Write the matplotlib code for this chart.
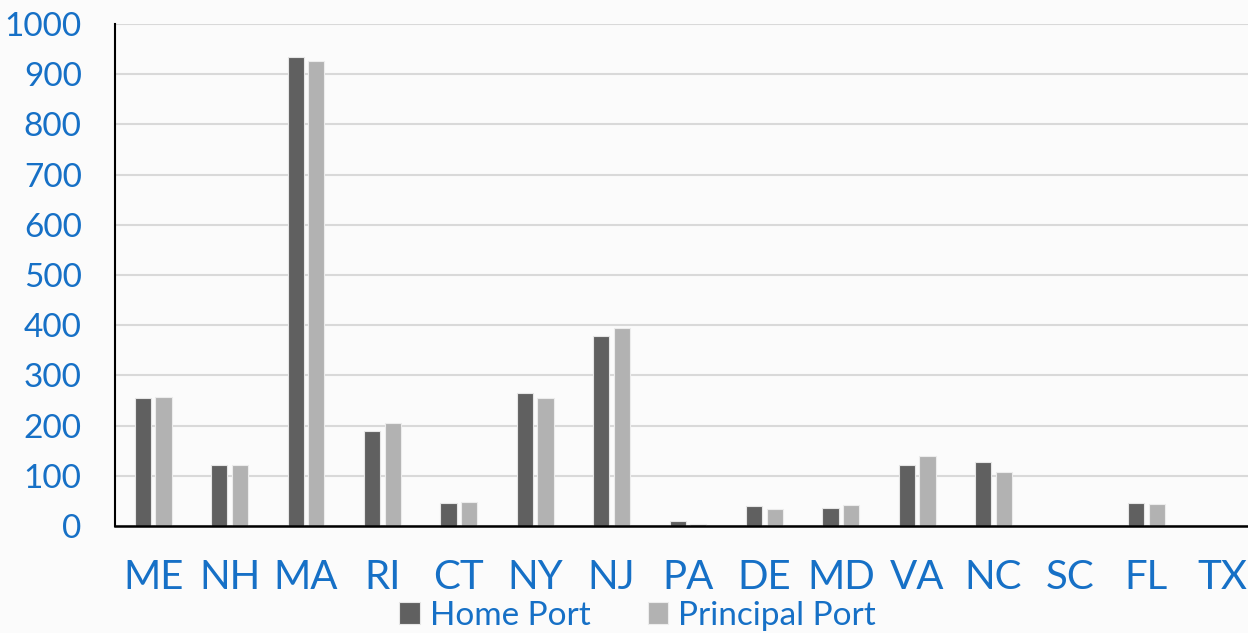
import matplotlib
matplotlib.use("Agg")
import matplotlib.pyplot as plt
import numpy as np

states = ["ME", "NH", "MA", "RI", "CT", "NY", "NJ", "PA", "DE", "MD", "VA", "NC", "SC", "FL", "TX"]
home_port = [255, 122, 935, 190, 46, 265, 378, 9, 39, 35, 122, 127, 0, 46, 0]
principal_port = [256, 122, 926, 205, 48, 255, 394, 3, 33, 41, 140, 108, 0, 43, 0]
yticks = [0, 100, 200, 300, 400, 500, 600, 700, 800, 900, 1000]

plt.rcParams['font.family'] = ['Lato', 'DejaVu Sans']
blue = "#1670C6"
bg = "#fbfbfb"

fig = plt.figure(figsize=(12.48, 6.33), dpi=100, facecolor=bg)
ax = fig.add_axes([115/1248, 1 - 526/633, (1261 - 115)/1248, (526 - 24)/633])
ax.set_facecolor(bg)

x = np.arange(len(states))
w = 0.21
off = 0.135
ax.bar(x - off, home_port, width=w, color="#606060", edgecolor="#e6e6e6", linewidth=0.8,
       label="Home Port", zorder=3)
ax.bar(x + off, principal_port, width=w, color="#b2b2b2", edgecolor="#ececec", linewidth=0.8,
       label="Principal Port", zorder=3)

ax.set_xlim(-0.5, len(states) - 0.5)
ax.set_ylim(0, 1000)
ax.set_yticks(yticks)
ax.set_yticklabels([str(v) for v in yticks])
ax.set_xticks(x)
ax.set_xticklabels(states)
ax.yaxis.grid(True, color="#d9d9d9", linewidth=1.5, zorder=0)
ax.set_axisbelow(True)

for s in ["top", "right"]:
    ax.spines[s].set_visible(False)
ax.spines["left"].set_color("black")
ax.spines["left"].set_linewidth(1.5)
ax.spines["bottom"].set_color("black")
ax.spines["bottom"].set_linewidth(1.8)
ax.spines["bottom"].set_zorder(4)

ax.tick_params(axis="y", length=0, pad=24, labelsize=24, labelcolor=blue)
ax.tick_params(axis="x", length=0, pad=24, labelsize=29, labelcolor=blue)

leg = fig.legend(loc="center", bbox_to_anchor=(0.511, 0.027), ncol=2, frameon=False,
                 fontsize=24, labelcolor=blue, handlelength=0.62, handleheight=0.62,
                 handletextpad=0.3, columnspacing=1.7, borderpad=0)

fig.savefig("out.png", dpi=100, facecolor=bg)
